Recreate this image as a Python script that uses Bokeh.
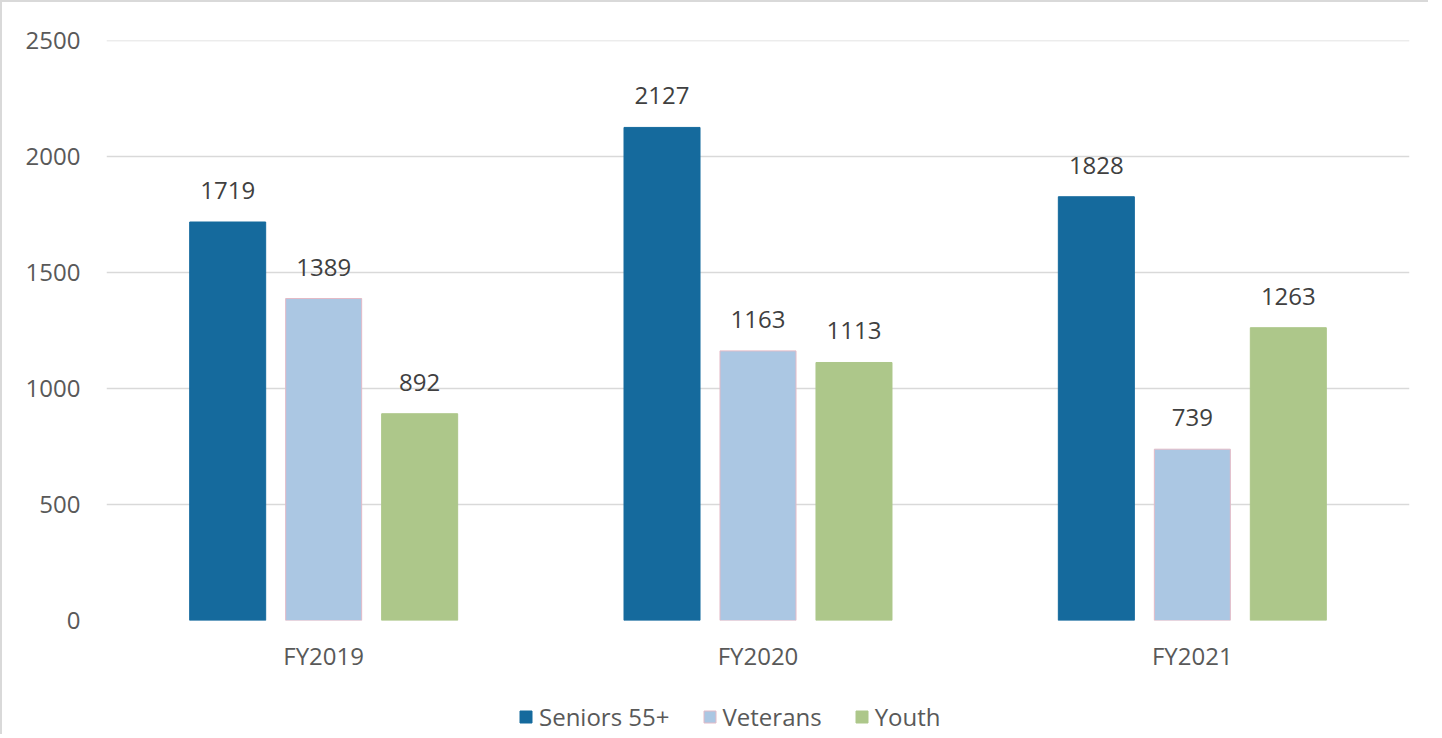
from bokeh.plotting import figure
from bokeh.layouts import column
from bokeh.models import FactorRange, Range1d, FixedTicker, Legend, LegendItem, ColumnDataSource, LabelSet
from bokeh.transform import dodge
from bokeh.core.properties import value
from bokeh.embed import file_html
from bokeh.resources import INLINE

categories = ["FY2019", "FY2020", "FY2021"]
series_names = ["Seniors 55+", "Veterans", "Youth"]
seniors = [1719, 2127, 1828]
veterans = [1389, 1163, 739]
youth = [892, 1113, 1263]
y_ticks = [0, 500, 1000, 1500, 2000, 2500]

colors = ["#156A9D", "#ABC7E3", "#ADC78A"]
outlines = ["#156A9D", "#E3BAC6", "#ADC78A"]
offsets = [-0.221, 0.0, 0.221]
FONT = "Open Sans"
TXT = "#595959"
FS = "24px"

src = ColumnDataSource(dict(cat=categories, s0=seniors, s1=veterans, s2=youth,
                            l0=[str(v) for v in seniors], l1=[str(v) for v in veterans],
                            l2=[str(v) for v in youth]))

p = figure(x_range=FactorRange(*categories, range_padding=0), y_range=Range1d(0, 2502),
           width=1426, height=688, output_backend="svg", toolbar_location=None,
           min_border_left=104, min_border_right=19, min_border_top=38, min_border_bottom=70)
p.outline_line_color = None
p.background_fill_color = "white"
p.border_fill_color = "white"

for i, col in enumerate(["s0", "s1", "s2"]):
    p.vbar(x=dodge("cat", offsets[i], range=p.x_range), top=col, width=0.175, source=src,
           fill_color=colors[i], line_color=outlines[i], line_width=1)
    lbl = LabelSet(x=dodge("cat", offsets[i], range=p.x_range), y=col, text="l" + str(i), source=src,
                   text_align="center", text_baseline="bottom", y_offset=23,
                   text_font=value(FONT), text_font_size=FS, text_color="#404040")
    p.add_layout(lbl)

p.yaxis.ticker = FixedTicker(ticks=y_ticks)
p.yaxis.axis_line_color = None
p.yaxis.major_tick_line_color = None
p.yaxis.minor_tick_line_color = None
p.yaxis.major_label_standoff = 20
p.yaxis.major_label_text_font = FONT
p.yaxis.major_label_text_font_size = FS
p.yaxis.major_label_text_color = TXT

p.xaxis.axis_line_color = None
p.xaxis.major_tick_line_color = None
p.xaxis.minor_tick_line_color = None
p.xaxis.major_label_standoff = 12
p.xaxis.major_label_text_font = FONT
p.xaxis.major_label_text_font_size = FS
p.xaxis.major_label_text_color = TXT

p.xgrid.grid_line_color = None
p.ygrid.grid_line_color = "#d9d9d9"
p.ygrid.grid_line_width = 1.5

# legend strip below the chart
lg = figure(width=1426, height=44, output_backend="svg", toolbar_location=None,
            x_range=Range1d(0, 1), y_range=Range1d(0, 1),
            min_border=0, outline_line_color=None)
lg.axis.visible = False
lg.grid.visible = False
lg.background_fill_color = "white"
lg.border_fill_color = "white"
items = []
for i, name in enumerate(series_names):
    r = lg.rect(x=[5], y=[5], width=0.1, height=0.1, fill_color=colors[i], line_color=outlines[i])
    items.append(LegendItem(label=name, renderers=[r]))
legend = Legend(items=items, orientation="horizontal", location=(412, 1),
                label_text_font=FONT, label_text_font_size=FS, label_text_color=TXT,
                glyph_width=15, glyph_height=15, label_standoff=6, spacing=32,
                border_line_color=None, background_fill_alpha=0, padding=2, margin=0)
lg.add_layout(legend, "center")

layout = column(p, lg, spacing=0)
layout.styles = {"border-top": "2px solid #d9d9d9", "border-left": "2px solid #d9d9d9"}

open("out.html", "w").write(file_html(layout, INLINE))
